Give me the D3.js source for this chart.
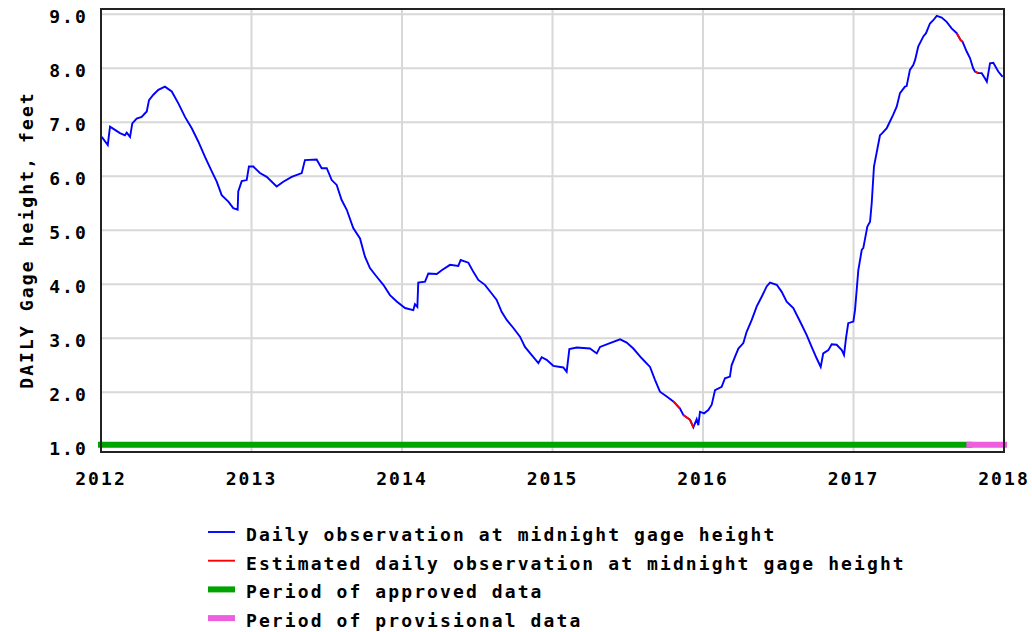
<!DOCTYPE html>
<html>
<head>
<meta charset="utf-8">
<script src="https://cdn.jsdelivr.net/npm/d3@7"></script>
<style>
  html, body { margin: 0; padding: 0; background: #fff; }
  svg text { font-family: "DejaVu Sans Mono", "Liberation Mono", monospace; font-weight: bold; font-size: 18px; letter-spacing: 2.1px; fill: #000; }
</style>
</head>
<body>
<svg id="chart" width="1032" height="632"></svg>
<script>
// Decimal-year dates of the daily gage-height trace
const dates = [2012.005,2012.045,2012.060,2012.093,2012.126,2012.159,2012.171,2012.193,2012.208,2012.237,2012.270,2012.304,2012.319,2012.348,2012.381,2012.425,2012.470,2012.514,2012.558,2012.603,2012.647,2012.691,2012.736,2012.769,2012.802,2012.846,2012.879,2012.908,2012.912,2012.935,2012.968,2012.983,2013.012,2013.056,2013.101,2013.167,2013.211,2013.267,2013.334,2013.355,2013.433,2013.466,2013.500,2013.533,2013.566,2013.599,2013.633,2013.676,2013.721,2013.754,2013.787,2013.832,2013.876,2013.920,2013.965,2014.020,2014.075,2014.086,2014.102,2014.108,2014.153,2014.175,2014.231,2014.264,2014.319,2014.374,2014.390,2014.441,2014.474,2014.507,2014.551,2014.596,2014.629,2014.662,2014.696,2014.740,2014.784,2014.817,2014.862,2014.906,2014.928,2014.961,2015.005,2015.072,2015.094,2015.112,2015.161,2015.249,2015.294,2015.316,2015.382,2015.449,2015.493,2015.537,2015.593,2015.648,2015.681,2015.714,2015.759,2015.803,2015.847,2015.869,2015.914,2015.936,2015.958,2015.969,2015.980,2016.007,2016.035,2016.058,2016.080,2016.124,2016.146,2016.179,2016.190,2016.213,2016.235,2016.268,2016.290,2016.324,2016.357,2016.390,2016.423,2016.445,2016.490,2016.523,2016.556,2016.600,2016.645,2016.689,2016.722,2016.755,2016.782,2016.799,2016.833,2016.855,2016.888,2016.922,2016.937,2016.950,2016.965,2016.999,2017.010,2017.021,2017.032,2017.055,2017.065,2017.092,2017.110,2017.121,2017.136,2017.176,2017.188,2017.221,2017.231,2017.264,2017.287,2017.309,2017.342,2017.353,2017.375,2017.397,2017.409,2017.430,2017.464,2017.482,2017.508,2017.530,2017.553,2017.586,2017.619,2017.652,2017.686,2017.712,2017.725,2017.752,2017.774,2017.795,2017.807,2017.829,2017.852,2017.874,2017.886,2017.907,2017.929,2017.962,2017.991];
// Gage height, feet
const heights = [6.73,6.58,6.92,6.86,6.80,6.76,6.81,6.73,6.98,7.07,7.10,7.20,7.41,7.51,7.60,7.66,7.57,7.35,7.10,6.89,6.64,6.36,6.09,5.90,5.65,5.53,5.41,5.38,5.72,5.91,5.93,6.18,6.18,6.06,5.99,5.81,5.90,5.99,6.06,6.30,6.31,6.15,6.15,5.93,5.84,5.56,5.38,5.04,4.85,4.51,4.30,4.14,3.99,3.80,3.68,3.56,3.52,3.63,3.58,4.03,4.05,4.20,4.19,4.26,4.36,4.34,4.45,4.40,4.23,4.08,3.99,3.83,3.71,3.49,3.34,3.19,3.03,2.84,2.69,2.54,2.65,2.60,2.49,2.46,2.38,2.80,2.83,2.81,2.72,2.84,2.91,2.98,2.92,2.81,2.63,2.47,2.23,2.01,1.92,1.83,1.70,1.58,1.49,1.35,1.50,1.39,1.64,1.61,1.67,1.77,2.04,2.10,2.26,2.29,2.50,2.66,2.81,2.91,3.12,3.34,3.59,3.77,3.96,4.03,3.99,3.86,3.68,3.56,3.31,3.06,2.84,2.63,2.47,2.72,2.78,2.89,2.88,2.78,2.69,3.00,3.28,3.31,3.52,3.89,4.26,4.64,4.67,5.07,5.16,5.50,6.18,6.76,6.79,6.89,6.95,7.14,7.29,7.54,7.66,7.67,7.97,8.06,8.15,8.40,8.59,8.65,8.83,8.89,8.97,8.94,8.86,8.74,8.65,8.52,8.49,8.31,8.19,8.00,7.94,7.91,7.91,7.81,7.75,8.09,8.10,7.94,7.84,7.75];
// Periods with estimated values [start, end] (decimal years)
const estimatedRanges = [[2015.80, 2015.85], [2015.86, 2015.94], [2017.68, 2017.73], [2017.80, 2017.83]];
// Approval periods
const approvedPeriod = [2012.0, 2017.77];
const provisionalPeriod = [2017.77, 2018.0];
const periodLevel = 1.03;
// Axis ticks
const xTicks = [2012, 2013, 2014, 2015, 2016, 2017, 2018];
const yTicks = [1, 2, 3, 4, 5, 6, 7, 8, 9];
const yTitle = "DAILY Gage height, feet";
const legendLabels = [
  "Daily observation at midnight gage height",
  "Estimated daily observation at midnight gage height",
  "Period of approved data",
  "Period of provisional data"
];
const colors = { obs: "#0000ff", est: "#ff0000", approved: "#00a400", provisional: "#ee5fdf", grid: "#d8d8d8", frame: "#222" };

const svg = d3.select("#chart");
const L = 101, R = 1004, T = 9, B = 452;
const x = d3.scaleLinear().domain([2012, 2018]).range([L, R]);
const y = d3.scaleLinear().domain([0.894, 9.098]).range([B, T]);

// grid
const g = svg.append("g");
g.selectAll("line.h").data(yTicks).join("line")
  .attr("x1", L).attr("x2", R).attr("y1", d => y(d)).attr("y2", d => y(d))
  .attr("stroke", colors.grid).attr("stroke-width", 2);
g.selectAll("line.v").data(xTicks.slice(1, -1)).join("line")
  .attr("y1", T).attr("y2", B).attr("x1", d => x(d)).attr("x2", d => x(d))
  .attr("stroke", colors.grid).attr("stroke-width", 2);

// period bars
const periodLine = d3.line().x(d => x(d)).y(() => y(periodLevel));
svg.append("path").attr("d", periodLine(approvedPeriod)).attr("stroke", colors.approved)
  .attr("stroke-width", 6).attr("fill", "none").attr("stroke-linecap", "square");
svg.append("path").attr("d", periodLine(provisionalPeriod)).attr("stroke", colors.provisional)
  .attr("stroke-width", 6).attr("fill", "none").attr("stroke-linecap", "square");

// data line
const pts = dates.map((d, i) => [d, heights[i]]);
const line = d3.line().x(d => x(d[0])).y(d => y(d[1]));
svg.append("path").attr("d", line(pts)).attr("fill", "none")
  .attr("stroke", colors.obs).attr("stroke-width", 1.9).attr("stroke-linejoin", "miter");
estimatedRanges.forEach(r => {
  const seg = pts.filter(p => p[0] >= r[0] && p[0] <= r[1]);
  if (seg.length > 1) {
    svg.append("path").attr("d", line(seg)).attr("fill", "none")
      .attr("stroke", colors.est).attr("stroke-width", 1.9);
  }
});

// frame
svg.append("rect").attr("x", L).attr("y", T).attr("width", R - L).attr("height", B - T)
  .attr("fill", "none").attr("stroke", colors.frame).attr("stroke-width", 2);

// axes labels
svg.append("g").selectAll("text").data(yTicks).join("text")
  .attr("x", 88).attr("y", d => y(d) + 9).attr("text-anchor", "end")
  .text(d => d3.format(".1f")(d));
svg.append("g").selectAll("text").data(xTicks).join("text")
  .attr("x", d => x(d)).attr("y", 485).attr("text-anchor", "middle")
  .text(d => d);
svg.append("text").attr("transform", "translate(33,240) rotate(-90)")
  .attr("text-anchor", "middle").text(yTitle);

// legend
const legendTypes = [
  { c: colors.obs, w: 1.9 }, { c: colors.est, w: 1.9 },
  { c: colors.approved, w: 6 }, { c: colors.provisional, w: 6 }
];
const lg = svg.append("g");
legendLabels.forEach((lab, i) => {
  const base = 541 + i * 28.7;
  lg.append("line").attr("x1", 208).attr("x2", 235).attr("y1", base - 9).attr("y2", base - 9)
    .attr("stroke", legendTypes[i].c).attr("stroke-width", legendTypes[i].w);
  lg.append("text").attr("x", 246).attr("y", base).text(lab);
});
</script>
</body>
</html>
